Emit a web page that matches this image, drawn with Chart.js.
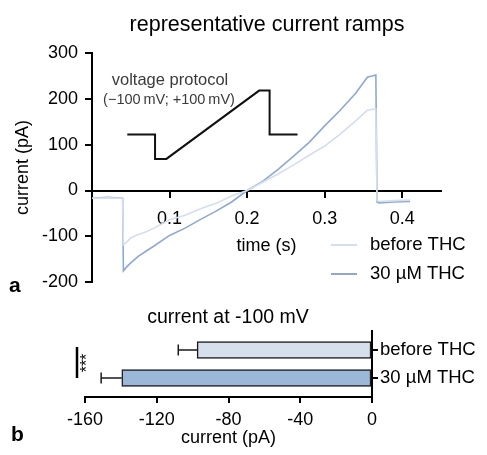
<!DOCTYPE html>
<html>
<head>
<meta charset="utf-8">
<script src="https://cdn.jsdelivr.net/npm/chart.js@4.4.1/dist/chart.umd.min.js"></script>
<style>
   html, body { margin: 0; padding: 0; background: #fff; }
   #wrap { position: relative; width: 487px; height: 455px; overflow: hidden; }
   canvas { position: absolute; left: 0; }
   #ramps { top: 0; }
   #bars { top: 300px; }
</style>
</head>
<body>
<div id="wrap">
   <canvas id="ramps" width="487" height="300"></canvas>
   <canvas id="bars" width="487" height="155"></canvas>
</div>
<script>
// DATA - panel a (current traces, time in s, current in pA)
const timeS = [0, 0.02, 0.0395, 0.0405, 0.045, 0.05, 0.06, 0.07, 0.08, 0.1, 0.12, 0.14, 0.16, 0.18, 0.2, 0.22, 0.24, 0.26, 0.28, 0.3, 0.32, 0.34, 0.355, 0.366, 0.3675, 0.37, 0.39, 0.41];
const beforeTHC = [-17, -16, -17, -118, -112, -103, -96, -90, -82, -64, -54, -40, -28, -12, 0, 18, 36, 56, 77, 97, 123, 152, 175, 178, -22, -24, -22, -21];
const thc30 = [-17, -15, -17, -175, -166, -158, -143, -132, -121, -98, -82, -63, -45, -25, 0, 20, 46, 75, 105, 141, 175, 212, 247, 252, -25, -27, -25, -24];
const xTicks = [0.1, 0.2, 0.3, 0.4];

// voltage protocol inset (drawn in the axes of panel a)
const protocolT = [0.0455, 0.0813, 0.0813, 0.0959, 0.2155, 0.229, 0.229, 0.265];
const protocolY = [122, 122, 69, 69, 218, 218, 122, 122];

// DATA - panel b (current at -100 mV)
const groupLabels = ["before THC", "30 µM THC"];
const meanCurrent = [-97.5, -139.5];
const semCurrent = [10.5, 11.5];
const groupColors = ["#d6e0ec", "#9bb8d8"];

const FONT = "'Liberation Sans', Arial, sans-serif";
const traceColors = ["#d3deef", "#8fa8d2"];

function toPoints(xs, ys) {
   return xs.map((x, i) => ({ x: x, y: ys[i] }));
}

// TEXT / ANNOTATIONS PANEL A
const rampsText = {
   id: "rampsText",
   afterDraw(chart) {
      const ctx = chart.ctx;
      ctx.save();
      ctx.fillStyle = "#000";
      ctx.textAlign = "center";
      ctx.textBaseline = "middle";
      ctx.font = "21.5px " + FONT;
      ctx.fillText("representative current ramps", 267, 25);

      ctx.fillStyle = "#3a3a3a";
      ctx.font = "16.5px " + FONT;
      ctx.fillText("voltage protocol", 170, 80);
      ctx.font = "14.5px " + FONT;
      ctx.fillText("(\u2212100\u2009mV; +100\u2009mV)", 169, 100);

      // legend
      const rows = [245, 274];
      chart.data.datasets.slice(0, 2).forEach((ds, i) => {
         ctx.strokeStyle = ds.borderColor;
         ctx.lineWidth = 2;
         ctx.beginPath();
         ctx.moveTo(331, rows[i]);
         ctx.lineTo(357, rows[i]);
         ctx.stroke();
         ctx.fillStyle = "#000";
         ctx.textAlign = "left";
         ctx.font = "18.5px " + FONT;
         ctx.fillText(ds.label, 370, rows[i]);
      });

      ctx.font = "bold 21px " + FONT;
      ctx.textAlign = "left";
      ctx.fillText("a", 9, 286);
      ctx.restore();
   },
};

new Chart(document.getElementById("ramps"), {
   type: "line",
   data: {
      datasets: [
         {
            label: "before THC",
            data: toPoints(timeS, beforeTHC),
            borderColor: traceColors[0],
            borderWidth: 1.6,
            pointRadius: 0,
         },
         {
            label: "30 µM THC",
            data: toPoints(timeS, thc30),
            borderColor: traceColors[1],
            borderWidth: 1.6,
            pointRadius: 0,
         },
         {
            label: "voltage protocol",
            data: toPoints(protocolT, protocolY),
            borderColor: "#111",
            borderWidth: 2,
            pointRadius: 0,
         },
      ],
   },
   options: {
      responsive: false,
      animation: false,
      layout: { padding: { top: 53, bottom: 15, left: 0, right: 46 } },
      plugins: { legend: { display: false }, tooltip: { enabled: false } },
      scales: {
         x: {
            type: "linear",
            min: 0,
            max: 0.45,
            position: { y: 0 },
            afterBuildTicks: (s) => {
               s.ticks = xTicks.map((v) => ({ value: v }));
            },
            afterFit: (s) => {
               s.height = 74;
            },
            grid: { drawOnChartArea: false, color: "#000", lineWidth: 2, tickLength: 6 },
            border: { color: "#000", width: 2 },
            ticks: { color: "#000", padding: 12, font: { family: FONT, size: 18 } },
            title: {
               display: true,
               text: "time (s)",
               color: "#000",
               font: { family: FONT, size: 18 },
               padding: { top: 0, bottom: 7.2 },
            },
         },
         y: {
            min: -200,
            max: 300,
            afterFit: (s) => {
               s.width = 92;
            },
            ticks: { stepSize: 100, color: "#000", padding: 7, font: { family: FONT, size: 18 } },
            grid: { drawOnChartArea: false, color: "#000", lineWidth: 2, tickLength: 7 },
            border: { color: "#000", width: 2 },
            title: {
               display: true,
               text: "current (pA)",
               color: "#000",
               font: { family: FONT, size: 18 },
               padding: { top: 12, bottom: 0 },
            },
         },
      },
   },
   plugins: [rampsText],
});

// ERROR BARS + TEXT PANEL B
const barsExtras = {
   id: "barsExtras",
   afterDatasetsDraw(chart) {
      const ctx = chart.ctx;
      const xs = chart.scales.x;
      const ys = chart.scales.y;
      ctx.save();
      ctx.strokeStyle = "#1a1a1a";
      ctx.lineWidth = 1.5;
      meanCurrent.forEach((m, i) => {
         const y = ys.getPixelForValue(i);
         const x0 = xs.getPixelForValue(m);
         const x1 = xs.getPixelForValue(m - semCurrent[i]);
         ctx.beginPath();
         ctx.moveTo(x0, y);
         ctx.lineTo(x1, y);
         ctx.moveTo(x1, y - 5.5);
         ctx.lineTo(x1, y + 5.5);
         ctx.stroke();
      });
      ctx.restore();
   },
   afterDraw(chart) {
      const ctx = chart.ctx;
      ctx.save();
      ctx.fillStyle = "#000";
      ctx.textAlign = "center";
      ctx.textBaseline = "middle";
      ctx.font = "19.5px " + FONT;
      ctx.fillText("current at -100 mV", 228, 18);

      // significance bracket
      ctx.strokeStyle = "#000";
      ctx.lineWidth = 2.5;
      ctx.beginPath();
      ctx.moveTo(77, 47);
      ctx.lineTo(77, 78);
      ctx.stroke();
      ctx.save();
      ctx.translate(86, 63);
      ctx.rotate(-Math.PI / 2);
      ctx.font = "16px " + FONT;
      ctx.fillText("***", 0, 2);
      ctx.restore();

      ctx.font = "bold 21px " + FONT;
      ctx.textAlign = "left";
      ctx.fillText("b", 11, 135);
      ctx.restore();
   },
};

new Chart(document.getElementById("bars"), {
   type: "bar",
   data: {
      datasets: [
         {
            label: "current at -100 mV",
            data: meanCurrent.map((m, i) => ({ x: m, y: i })),
            backgroundColor: groupColors,
            borderColor: "#1a1a1a",
            borderWidth: 1.5,
            borderSkipped: false,
            barThickness: 17,
         },
      ],
   },
   options: {
      indexAxis: "y",
      responsive: false,
      animation: false,
      layout: { padding: { top: 31, bottom: 0, left: 85, right: 0 } },
      plugins: { legend: { display: false }, tooltip: { enabled: false } },
      scales: {
         x: {
            type: "linear",
            min: -160,
            max: 0,
            position: "bottom",
            afterFit: (s) => {
               s.height = 58;
            },
            ticks: { stepSize: 40, color: "#000", padding: 6, font: { family: FONT, size: 18 } },
            grid: { drawOnChartArea: false, color: "#000", lineWidth: 2, tickLength: 6 },
            border: { color: "#000", width: 2 },
            title: {
               display: true,
               text: "current (pA)",
               color: "#000",
               font: { family: FONT, size: 18 },
               padding: { top: 0, bottom: 6.5 },
            },
         },
         y: {
            type: "linear",
            position: "right",
            reverse: true,
            offset: false,
            min: -0.68,
            max: 1.68,
            afterBuildTicks: (s) => {
               s.ticks = groupLabels.map((_, i) => ({ value: i }));
            },
            afterFit: (s) => {
               s.width = 115;
            },
            ticks: {
               color: "#000",
               padding: 2,
               font: { family: FONT, size: 18.5 },
               callback: (v) => groupLabels[v],
            },
            grid: { drawOnChartArea: false, offset: false, color: "#000", lineWidth: 2, tickLength: 6 },
            border: { color: "#000", width: 2 },
         },
      },
   },
   plugins: [barsExtras],
});
</script>
</body>
</html>
